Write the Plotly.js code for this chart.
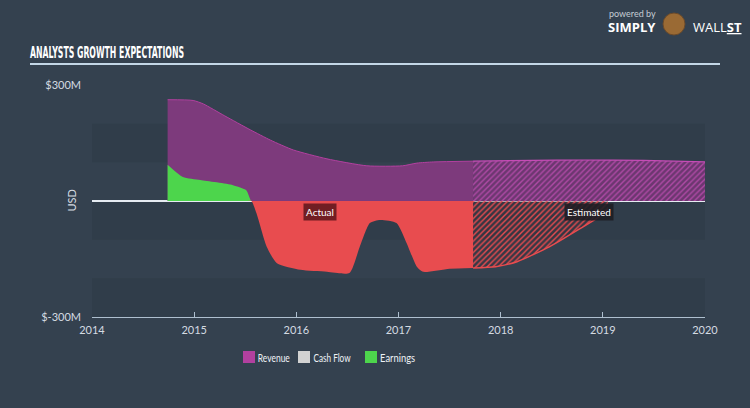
<!DOCTYPE html>
<html>
<head>
<meta charset="utf-8">
<script src="https://cdn.plot.ly/plotly-3.0.1.min.js"></script>
<style>
  html, body { margin: 0; padding: 0; background: #34414f; }
  #chart { width: 750px; height: 408px; }
</style>
</head>
<body>
<div id="chart"></div>
<script>
// ---- data (decimal years, values in $M) ----
const revenueActualX = [2014.74, 2014.99, 2015.09, 2015.30, 2015.55, 2015.75, 2015.97, 2016.30, 2016.69, 2017.04, 2017.18, 2017.34, 2017.73];
const revenueActualY = [262, 260, 251, 220, 184, 157, 132, 109, 91, 91, 98, 101, 103];
const revenueEstX = [2017.73, 2018.30, 2018.80, 2019.40, 2020.00];
const revenueEstY = [103, 105, 106, 105, 101];

const earningsActualX = [2014.74, 2014.89, 2015.06, 2015.38, 2015.51, 2015.56, 2015.61, 2015.71, 2015.81, 2016.04, 2016.30, 2016.52, 2016.62, 2016.72, 2016.82, 2016.98, 2017.08, 2017.18, 2017.24, 2017.50, 2017.73];
const earningsActualY = [94, 62, 54, 41, 28, 0, -32, -118, -161, -178, -183, -186, -119, -57, -49, -57, -109, -170, -183, -175, -173];
const earningsEstX = [2017.73, 2017.95, 2018.16, 2018.48, 2018.81, 2018.94, 2019.05];
const earningsEstY = [-173, -170, -157, -118, -66, -45, -20];

const cashFlowX = [];
const cashFlowY = [];

const xTicks = [2014, 2015, 2016, 2017, 2018, 2019, 2020];
const yTicks = [-300, 300];
const yTickText = ['$-300M', '$300M'];
const seriesNames = ['Revenue', 'Cash Flow', 'Earnings'];

// ---- layout helpers (pixel -> paper) ----
const M = {l: 92, r: 45, t: 85, b: 91};
const W = 750, H = 408;
const PW = W - M.l - M.r, PH = H - M.t - M.b;
const px = x => (x - M.l) / PW;
const py = y => (H - M.b - y) / PH;

const C = {
  bg: '#34414f',
  band: 'rgba(22,30,40,0.12)',
  revFill: '#7d3a7c',
  revLine: '#b2409f',
  revEstBg: '#6c3770',
  revEstFg: '#b04aa6',
  green: '#4dd54c',
  red: '#e84c4f',
  cash: '#d2d2d2',
  text: '#d4dbe2'
};
const legendColors = [C.revLine, C.cash, C.green];

const pos = earningsActualY.map(v => Math.max(v, 0));
const neg = earningsActualY.map(v => Math.min(v, 0));

const spline = {shape: 'spline', smoothing: 0.6};

const traces = [
  {x: revenueActualX, y: revenueActualY, type: 'scatter', mode: 'lines', fill: 'tozeroy', name: seriesNames[0],
   fillcolor: C.revFill, line: Object.assign({color: C.revLine, width: 1}, spline), showlegend: false, hoverinfo: 'skip'},
  {x: revenueEstX, y: revenueEstY, type: 'scatter', mode: 'lines', fill: 'tozeroy', name: seriesNames[0] + ' (est.)',
   fillcolor: C.revEstBg,
   fillpattern: {shape: '/', size: 4, solidity: 0.35, fgcolor: C.revEstFg, bgcolor: C.revEstBg},
   line: Object.assign({color: '#c64cb6', width: 1.2}, spline), showlegend: false, hoverinfo: 'skip'},
  {x: cashFlowX, y: cashFlowY, type: 'scatter', mode: 'lines', name: seriesNames[1],
   line: {color: C.cash, width: 1}, showlegend: false, hoverinfo: 'skip'},
  {x: earningsActualX, y: pos, type: 'scatter', mode: 'lines', fill: 'tozeroy', name: seriesNames[2],
   fillcolor: C.green, line: Object.assign({color: C.green, width: 0}, spline), showlegend: false, hoverinfo: 'skip'},
  {x: earningsActualX, y: neg, type: 'scatter', mode: 'lines', fill: 'tozeroy', name: seriesNames[2] + ' (loss)',
   fillcolor: C.red, line: Object.assign({color: C.red, width: 0}, spline), showlegend: false, hoverinfo: 'skip'},
  {x: earningsEstX, y: earningsEstY, type: 'scatter', mode: 'lines', fill: 'tozeroy', name: seriesNames[2] + ' (est.)',
   fillcolor: 'rgba(0,0,0,0)',
   fillpattern: {shape: '/', size: 4, solidity: 0.35, fgcolor: C.red, bgcolor: 'rgba(60,40,50,0.35)'},
   line: Object.assign({color: C.red, width: 1.5}, spline), showlegend: false, hoverinfo: 'skip'}
];

const bands = [[100, 200], [-100, 0], [-300, -200]].map(b => ({
  type: 'rect', xref: 'paper', yref: 'y', x0: 0, x1: 1, y0: b[0], y1: b[1],
  fillcolor: C.band, line: {width: 0}, layer: 'below'
}));

// manual legend (square swatches, compact spacing like the reference)
const legendX = [243, 298, 365];
const legendTextW = [32, 37, 35];
const legendShapes = seriesNames.map((n, i) => ({
  type: 'rect', xref: 'paper', yref: 'paper',
  x0: px(legendX[i]), x1: px(legendX[i] + 12), y0: py(363), y1: py(351),
  fillcolor: legendColors[i], line: {width: 0}
}));
const legendAnn = seriesNames.map((n, i) => ({
  x: px(legendX[i] + 15 + legendTextW[i] / 2), y: py(357), xref: 'paper', yref: 'paper', xanchor: 'center', yanchor: 'middle',
  text: n, showarrow: false, font: {size: 11, color: '#eef2f6'}
}));

const actualMid = (revenueActualX[0] + revenueActualX[revenueActualX.length - 1]) / 2;
const estMid = (revenueEstX[0] + revenueEstX[revenueEstX.length - 1]) / 2;

const layout = {
  width: W, height: H,
  margin: M,
  paper_bgcolor: C.bg, plot_bgcolor: C.bg,
  font: {family: 'Lato, "Open Sans", sans-serif', color: C.text, size: 11},
  title: {
    text: 'ANALYSTS GROWTH EXPECTATIONS',
    x: 30 / W, xanchor: 'left', xref: 'container',
    y: 1 - 52 / H, yanchor: 'middle', yref: 'container',
    font: {family: '"DejaVu Sans Condensed", "Liberation Sans Narrow", sans-serif', size: 16, color: '#ffffff', weight: 'bold'}
  },
  xaxis: {
    type: 'linear', range: [2014, 2020], tickvals: xTicks, ticktext: xTicks.map(String),
    showgrid: false, zeroline: false, showline: true, linecolor: '#aebfcf', linewidth: 1.2,
    ticks: 'inside', ticklen: 5, tickcolor: '#aebfcf', tickwidth: 1, ticklabelstandoff: 3,
    tickfont: {size: 11, color: C.text}, fixedrange: true
  },
  yaxis: {
    range: [-300, 300], tickvals: yTicks, ticktext: yTickText,
    showgrid: false, zeroline: true, zerolinecolor: '#e6ecf2', zerolinewidth: 1.5,
    showline: false, ticks: '', ticklabelstandoff: 10,
    tickfont: {size: 11, color: C.text},
    layer: 'above traces', fixedrange: true
  },
  showlegend: false,
  shapes: bands.concat([
    {type: 'line', xref: 'paper', yref: 'paper', x0: px(30), x1: px(720), y0: py(64), y1: py(64),
     line: {color: '#c3d6e6', width: 2}}
  ]).concat(legendShapes),
  annotations: [
    {x: px(62), y: 0.5, xref: 'paper', yref: 'paper', text: 'USD', textangle: -90, showarrow: false,
     font: {size: 11, color: C.text}},
    {x: actualMid, y: -28, xref: 'x', yref: 'y', text: 'Actual', showarrow: false,
     bgcolor: 'rgba(100,25,30,0.9)', borderpad: 2, font: {size: 10, color: '#ffffff'}},
    {x: estMid, y: -28, xref: 'x', yref: 'y', text: 'Estimated', showarrow: false,
     bgcolor: 'rgba(30,30,36,0.9)', borderpad: 2, font: {size: 10, color: '#ffffff'}},
    {x: px(607), y: py(14), xref: 'paper', yref: 'paper', xanchor: 'left', yanchor: 'middle',
     text: 'powered by', showarrow: false, font: {size: 9, color: '#c4ccd4'}},
    {x: px(606), y: py(27), xref: 'paper', yref: 'paper', xanchor: 'left', yanchor: 'middle',
     text: '<b>SIMPLY</b>', showarrow: false, font: {size: 13, color: '#ffffff', family: '"Open Sans", sans-serif'}},
    {x: px(691), y: py(27), xref: 'paper', yref: 'paper', xanchor: 'left', yanchor: 'middle',
     text: 'WALL<b><u>ST</u></b>', showarrow: false, font: {size: 13, color: '#ffffff', family: '"Open Sans", sans-serif'}}
  ].concat(legendAnn)
};

// logo emblem (decorative)
layout.shapes.push({type: 'circle', xref: 'paper', yref: 'paper', x0: px(663), x1: px(685), y0: py(35), y1: py(13),
  fillcolor: '#9a6a34', line: {color: '#6b4a2a', width: 1}});

Plotly.newPlot('chart', traces, layout, {displayModeBar: false, staticPlot: true}).then(() => {
  const t = document.querySelector('.gtitle');
  if (t) {
    t.setAttribute('textLength', '154');
    t.setAttribute('lengthAdjust', 'spacingAndGlyphs');
  }
  document.querySelectorAll('.annotation-text').forEach(el => {
    const i = seriesNames.indexOf(el.textContent);
    if (i >= 0) {
      el.setAttribute('textLength', String(legendTextW[i]));
      el.setAttribute('lengthAdjust', 'spacingAndGlyphs');
    }
  });
});
</script>
</body>
</html>
